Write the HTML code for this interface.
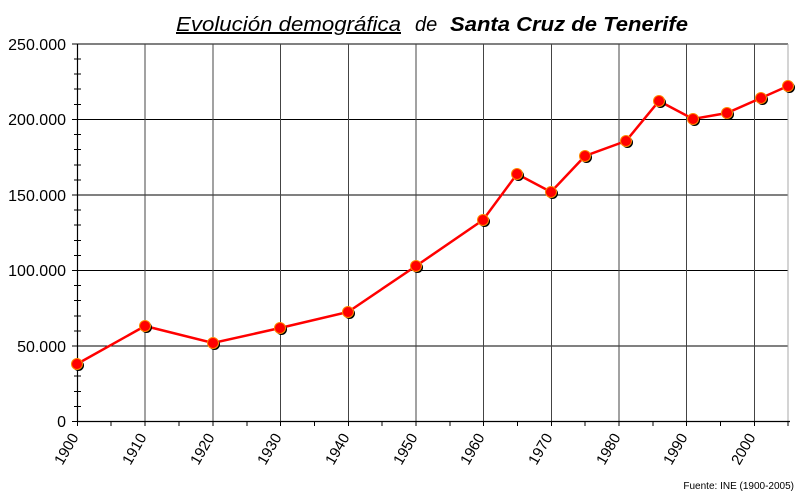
<!DOCTYPE html>
<html><head><meta charset="utf-8"><style>body{margin:0;background:#fff}svg{display:block}</style></head><body>
<svg width="800" height="500" xmlns="http://www.w3.org/2000/svg" font-family="Liberation Sans, Arial, sans-serif">
<rect width="800" height="500" fill="#fff"/>
<text x="176" y="31" font-size="20" font-style="italic" text-decoration="underline" textLength="225" lengthAdjust="spacingAndGlyphs">Evolución demográfica</text>
<text x="415" y="31" font-size="20" font-style="italic">de</text>
<text x="450" y="31" font-size="20" font-style="italic" font-weight="bold" textLength="238" lengthAdjust="spacingAndGlyphs">Santa Cruz de Tenerife</text>
<g stroke="#000" stroke-width="1">
<line x1="77.5" y1="44" x2="788" y2="44"/>
<line x1="77.5" y1="119.5" x2="788" y2="119.5"/>
<line x1="77.5" y1="195" x2="788" y2="195"/>
<line x1="77.5" y1="270.5" x2="788" y2="270.5"/>
<line x1="77.5" y1="346" x2="788" y2="346"/>
</g>
<g stroke="#444" stroke-width="1">
<line x1="145" y1="44" x2="145" y2="421"/><line x1="213" y1="44" x2="213" y2="421"/>
<line x1="280.5" y1="44" x2="280.5" y2="421"/><line x1="348.5" y1="44" x2="348.5" y2="421"/>
<line x1="416" y1="44" x2="416" y2="421"/><line x1="483.5" y1="44" x2="483.5" y2="421"/>
<line x1="551.5" y1="44" x2="551.5" y2="421"/><line x1="619" y1="44" x2="619" y2="421"/>
<line x1="686.5" y1="44" x2="686.5" y2="421"/><line x1="754.5" y1="44" x2="754.5" y2="421"/>
<line x1="788" y1="44" x2="788" y2="421" stroke="#aaa"/>
</g>
<g stroke="#000" stroke-width="1.2">
<line x1="77.5" y1="44" x2="77.5" y2="421.5"/>
<line x1="77.5" y1="421.5" x2="790" y2="421.5"/>
</g>
<g stroke="#000" stroke-width="1">
<line x1="72" y1="44" x2="81" y2="44"/><line x1="74" y1="59" x2="81" y2="59"/><line x1="74" y1="74" x2="81" y2="74"/><line x1="74" y1="89" x2="81" y2="89"/><line x1="74" y1="104.5" x2="81" y2="104.5"/>
<line x1="72" y1="119.5" x2="81" y2="119.5"/><line x1="74" y1="134.5" x2="81" y2="134.5"/><line x1="74" y1="149.5" x2="81" y2="149.5"/><line x1="74" y1="165" x2="81" y2="165"/><line x1="74" y1="180" x2="81" y2="180"/>
<line x1="72" y1="195" x2="81" y2="195"/><line x1="74" y1="210" x2="81" y2="210"/><line x1="74" y1="225" x2="81" y2="225"/><line x1="74" y1="240.5" x2="81" y2="240.5"/><line x1="74" y1="255.5" x2="81" y2="255.5"/>
<line x1="72" y1="270.5" x2="81" y2="270.5"/><line x1="74" y1="285.5" x2="81" y2="285.5"/><line x1="74" y1="300.5" x2="81" y2="300.5"/><line x1="74" y1="316" x2="81" y2="316"/><line x1="74" y1="331" x2="81" y2="331"/>
<line x1="72" y1="346" x2="81" y2="346"/><line x1="74" y1="361" x2="81" y2="361"/><line x1="74" y1="376" x2="81" y2="376"/><line x1="74" y1="391.5" x2="81" y2="391.5"/><line x1="74" y1="406.5" x2="81" y2="406.5"/>
<line x1="72" y1="421.5" x2="81" y2="421.5"/>
<line x1="77.5" y1="421" x2="77.5" y2="426"/><line x1="111" y1="421" x2="111" y2="426"/><line x1="145" y1="421" x2="145" y2="426"/><line x1="179" y1="421" x2="179" y2="426"/><line x1="213" y1="421" x2="213" y2="426"/><line x1="247" y1="421" x2="247" y2="426"/><line x1="280.5" y1="421" x2="280.5" y2="426"/><line x1="314.5" y1="421" x2="314.5" y2="426"/><line x1="348.5" y1="421" x2="348.5" y2="426"/><line x1="382" y1="421" x2="382" y2="426"/><line x1="416" y1="421" x2="416" y2="426"/><line x1="450" y1="421" x2="450" y2="426"/><line x1="483.5" y1="421" x2="483.5" y2="426"/><line x1="517.5" y1="421" x2="517.5" y2="426"/><line x1="551.5" y1="421" x2="551.5" y2="426"/><line x1="585" y1="421" x2="585" y2="426"/><line x1="619" y1="421" x2="619" y2="426"/><line x1="653" y1="421" x2="653" y2="426"/><line x1="686.5" y1="421" x2="686.5" y2="426"/><line x1="720.5" y1="421" x2="720.5" y2="426"/><line x1="754.5" y1="421" x2="754.5" y2="426"/><line x1="788" y1="421" x2="788" y2="426"/>
</g>
<g font-size="16" text-anchor="end">
<text x="66" y="50">250.000</text><text x="66" y="125">200.000</text><text x="66" y="201">150.000</text>
<text x="66" y="276">100.000</text><text x="66" y="352">50.000</text><text x="66" y="427">0</text>
</g>
<g font-size="15" text-anchor="end">
<text transform="translate(79,437) rotate(-60)">1900</text>
<text transform="translate(147,437) rotate(-60)">1910</text>
<text transform="translate(215,437) rotate(-60)">1920</text>
<text transform="translate(282,437) rotate(-60)">1930</text>
<text transform="translate(350,437) rotate(-60)">1940</text>
<text transform="translate(418,437) rotate(-60)">1950</text>
<text transform="translate(485,437) rotate(-60)">1960</text>
<text transform="translate(553,437) rotate(-60)">1970</text>
<text transform="translate(621,437) rotate(-60)">1980</text>
<text transform="translate(688,437) rotate(-60)">1990</text>
<text transform="translate(756,437) rotate(-60)">2000</text>
</g>
<text x="794" y="489" font-size="10" text-anchor="end">Fuente: INE (1900-2005)</text>
<polyline fill="none" stroke="#f00" stroke-width="2.5" points="77,364 145,326 213,343 280,328 348,312 416,266 483,220 517,174 551,192 585,156 626,141 659,101 693,119 727,113 761,98 788,86"/>
<g fill="#000">
<circle cx="78.5" cy="365.5" r="5.5"/><circle cx="146.5" cy="327.5" r="5.5"/><circle cx="214.5" cy="344.5" r="5.5"/><circle cx="281.5" cy="329.5" r="5.5"/><circle cx="349.5" cy="313.5" r="5.5"/><circle cx="417.5" cy="267.5" r="5.5"/><circle cx="484.5" cy="221.5" r="5.5"/><circle cx="518.5" cy="175.5" r="5.5"/><circle cx="552.5" cy="193.5" r="5.5"/><circle cx="586.5" cy="157.5" r="5.5"/><circle cx="627.5" cy="142.5" r="5.5"/><circle cx="660.5" cy="102.5" r="5.5"/><circle cx="694.5" cy="120.5" r="5.5"/><circle cx="728.5" cy="114.5" r="5.5"/><circle cx="762.5" cy="99.5" r="5.5"/><circle cx="789.5" cy="87.5" r="5.5"/>
</g>
<g fill="#f00" stroke="#f80" stroke-width="1">
<circle cx="77" cy="364" r="5.5"/><circle cx="145" cy="326" r="5.5"/><circle cx="213" cy="343" r="5.5"/><circle cx="280" cy="328" r="5.5"/><circle cx="348" cy="312" r="5.5"/><circle cx="416" cy="266" r="5.5"/><circle cx="483" cy="220" r="5.5"/><circle cx="517" cy="174" r="5.5"/><circle cx="551" cy="192" r="5.5"/><circle cx="585" cy="156" r="5.5"/><circle cx="626" cy="141" r="5.5"/><circle cx="659" cy="101" r="5.5"/><circle cx="693" cy="119" r="5.5"/><circle cx="727" cy="113" r="5.5"/><circle cx="761" cy="98" r="5.5"/><circle cx="788" cy="86" r="5.5"/>
</g>
</svg>
</body></html>
